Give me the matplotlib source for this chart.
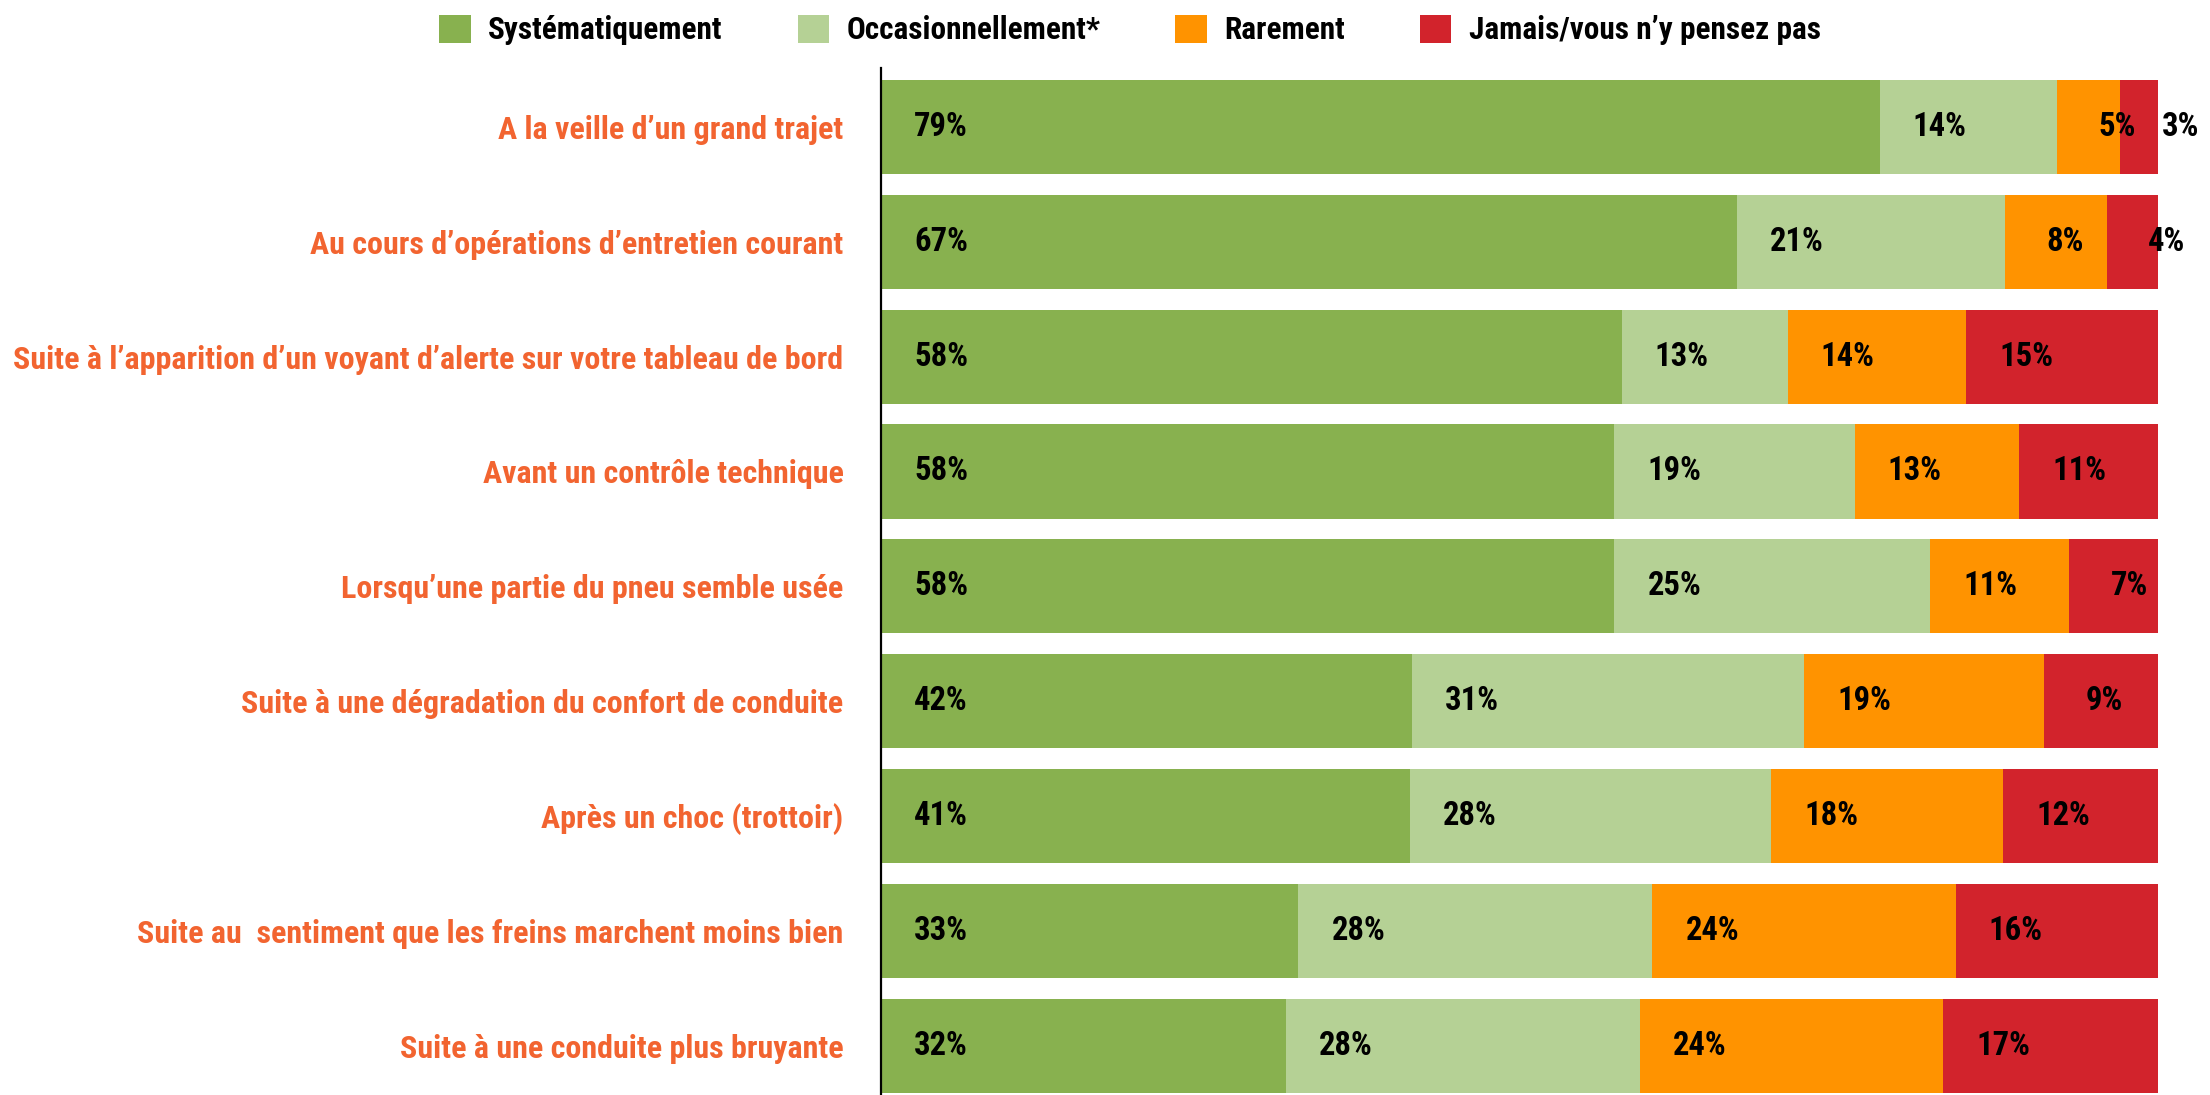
import matplotlib
matplotlib.use("Agg")
import matplotlib.pyplot as plt
import numpy as np

categories = [
    "A la veille d\u2019un grand trajet",
    "Au cours d\u2019op\u00e9rations d\u2019entretien courant",
    "Suite \u00e0 l\u2019apparition d\u2019un voyant d\u2019alerte sur votre tableau de bord",
    "Avant un contr\u00f4le technique",
    "Lorsqu\u2019une partie du pneu semble us\u00e9e",
    "Suite \u00e0 une d\u00e9gradation du confort de conduite",
    "Apr\u00e8s un choc (trottoir)",
    "Suite au  sentiment que les freins marchent moins bien",
    "Suite \u00e0 une conduite plus bruyante",
]
series_names = ["Syst\u00e9matiquement", "Occasionnellement*", "Rarement", "Jamais/vous n\u2019y pensez pas"]
systematiquement = [79, 67, 58, 58, 58, 42, 41, 33, 32]
occasionnellement = [14, 21, 13, 19, 25, 31, 28, 28, 28]
rarement = [5, 8, 14, 13, 11, 19, 18, 24, 24]
jamais = [3, 4, 15, 11, 7, 9, 12, 16, 17]

colors = ["#88B14F", "#B5D195", "#FF9300", "#D2232C"]
label_color = "#F26430"

plt.rcParams['font.family'] = ['Roboto Condensed', 'DejaVu Sans']
plt.rcParams['font.weight'] = 'bold'

fig = plt.figure(figsize=(22.1, 10.95), dpi=100)
ax = fig.add_axes([881/2210, 0.0, (2158-881)/2210, 1 - 68/1095])

data = np.array([systematiquement, occasionnellement, rarement, jamais], dtype=float)
totals = data.sum(axis=0)
norm = data / totals * 100.0
y = np.arange(len(categories))
left = np.zeros(len(categories))
handles = []
for i, name in enumerate(series_names):
    h = ax.barh(y, norm[i], left=left, height=0.82, color=colors[i], label=name, linewidth=0)
    handles.append(h)
    for j in range(len(categories)):
        ax.text(left[j] + 4.7, y[j], f"{int(data[i, j])}%", ha='center', va='center',
                fontsize=23.5, fontweight='bold', color='black', clip_on=False)
    left += norm[i]

ax.set_xlim(0, 100)
ax.set_ylim(8.43, -0.513)
ax.set_yticks(y)
ax.set_yticklabels(categories, fontsize=23, fontweight='bold', color=label_color)
ax.tick_params(axis='y', length=0, pad=27)
ax.set_xticks([])
for s in ['top', 'right', 'bottom']:
    ax.spines[s].set_visible(False)
ax.spines['left'].set_color('black')
ax.spines['left'].set_linewidth(1.6)

fig.legend(handles=handles, labels=series_names, loc='center', ncol=4,
           bbox_to_anchor=(1130/2210, 1 - 30/1095), frameon=False, fontsize=22.5,
           handlelength=1.0, handleheight=1.0, handletextpad=0.56, columnspacing=2.4,
           borderaxespad=0.0, borderpad=0.0)

fig.savefig("out.png", dpi=100)
